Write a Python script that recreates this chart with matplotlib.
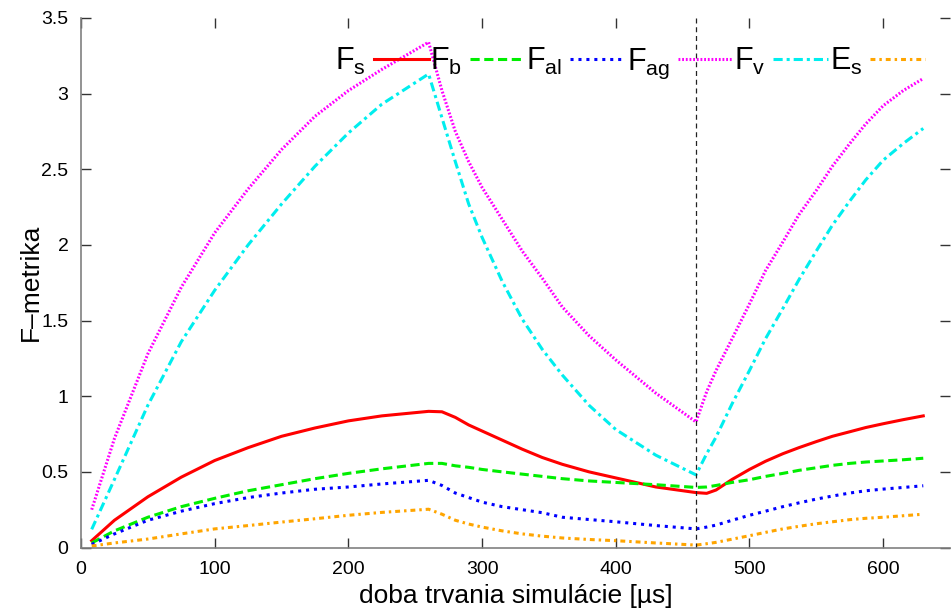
import matplotlib
matplotlib.use("Agg")
import matplotlib.pyplot as plt

plt.rcParams['font.family'] = ['Liberation Sans', 'DejaVu Sans']
plt.rcParams['mathtext.fontset'] = 'custom'
plt.rcParams['mathtext.rm'] = 'Liberation Sans'
plt.rcParams['mathtext.it'] = 'Liberation Sans'
plt.rcParams['mathtext.default'] = 'regular'

x = [8, 25, 50, 75, 100, 125, 150, 175, 200, 225, 260, 270, 280, 290, 300,
     315, 330, 345, 360, 380, 400, 430, 460, 468, 475, 487, 500, 512, 525,
     537, 550, 562, 575, 587, 600, 615, 630]

F_s = [0.045, 0.18, 0.335, 0.465, 0.575, 0.66, 0.735, 0.79, 0.837, 0.87, 0.90,
       0.897, 0.86, 0.81, 0.77, 0.71, 0.65, 0.595, 0.55, 0.50, 0.46, 0.40,
       0.363, 0.358, 0.38, 0.45, 0.516, 0.57, 0.62, 0.66, 0.70, 0.735, 0.765,
       0.793, 0.818, 0.845, 0.87]

F_b = [0.03, 0.11, 0.20, 0.27, 0.325, 0.375, 0.415, 0.455, 0.49, 0.52, 0.556,
       0.556, 0.54, 0.53, 0.516, 0.50, 0.485, 0.47, 0.455, 0.44, 0.43, 0.415,
       0.397, 0.40, 0.41, 0.43, 0.448, 0.47, 0.49, 0.51, 0.527, 0.543, 0.556,
       0.565, 0.572, 0.58, 0.59]

F_al = [0.02, 0.09, 0.18, 0.24, 0.29, 0.33, 0.36, 0.385, 0.40, 0.42, 0.444,
        0.41, 0.36, 0.33, 0.30, 0.27, 0.25, 0.23, 0.20, 0.185, 0.17, 0.145,
        0.123, 0.135, 0.148, 0.18, 0.213, 0.24, 0.27, 0.295, 0.32, 0.34, 0.36,
        0.375, 0.386, 0.397, 0.408]

F_ag = [0.25, 0.72, 1.28, 1.72, 2.08, 2.37, 2.63, 2.85, 3.02, 3.16, 3.34,
        3.02, 2.75, 2.55, 2.38, 2.17, 1.96, 1.78, 1.59, 1.40, 1.24, 1.02,
        0.83, 1.03, 1.17, 1.38, 1.61, 1.83, 2.02, 2.20, 2.36, 2.52, 2.67,
        2.80, 2.92, 3.02, 3.10]

F_v = [0.12, 0.45, 0.94, 1.36, 1.70, 2.00, 2.27, 2.52, 2.74, 2.93, 3.13,
       2.84, 2.55, 2.27, 2.05, 1.76, 1.51, 1.31, 1.14, 0.94, 0.78, 0.61,
       0.48, 0.62, 0.73, 0.95, 1.17, 1.38, 1.58, 1.77, 1.96, 2.13, 2.29,
       2.43, 2.56, 2.67, 2.77]

E_s = [0.01, 0.03, 0.056, 0.09, 0.123, 0.145, 0.168, 0.19, 0.213, 0.232, 0.253,
       0.22, 0.18, 0.155, 0.135, 0.11, 0.09, 0.075, 0.063, 0.053, 0.045, 0.03,
       0.016, 0.025, 0.034, 0.055, 0.078, 0.10, 0.123, 0.14, 0.157, 0.17,
       0.184, 0.193, 0.20, 0.21, 0.22]

marker_x = 460

xticks = [0, 100, 200, 300, 400, 500, 600]
yticks = [0, 0.5, 1, 1.5, 2, 2.5, 3, 3.5]
ytick_labels = ['0', '0.5', '1', '1.5', '2', '2.5', '3', '3.5']

W, H = 952, 610
fig = plt.figure(figsize=(W / 100, H / 100), dpi=100)
ax = fig.add_axes([81 / W, 1 - 547.5 / H, (950 - 81) / W, (547.5 - 18) / H])

lw = 2.2
ax.plot(x, F_s, color='#ff0000', lw=lw, ls='-', label='F$_s$')
ax.plot(x, F_b, color='#00ee00', lw=lw, ls=(0, (3, 1.5)), label='F$_b$')
ax.plot(x, F_al, color='#0000ff', lw=lw, ls=(0, (1, 1.6)), label='F$_{al}$')
ax.plot(x, F_ag, color='#ff00ff', lw=lw, ls=(0, (0.6, 0.6)), label='F$_{ag}$')
ax.plot(x, F_v, color='#00eeee', lw=lw, ls=(0, (3, 1.3, 1, 1.3)), label='F$_v$')
ax.plot(x, E_s, color='#ffa500', lw=lw, ls=(0, (1.6, 1.3, 0.8, 1.3)), label='E$_s$')

ax.axvline(marker_x, color='#222222', lw=0.9, ls=(0, (4, 3)))

ax.set_xlim(0, 650)
ax.set_ylim(0, 3.5)
ax.set_xticks(xticks)
ax.set_yticks(yticks)
ax.set_yticklabels(ytick_labels)
ax.tick_params(direction='in', length=7, width=1, labelsize=14, color='#333333',
               top=True, right=True, pad=9)
ax.tick_params(axis='x', pad=10)
for side in ['left', 'bottom']:
    ax.spines[side].set_color('#808080')
    ax.spines[side].set_linewidth(1.2)
ax.spines['top'].set_visible(False)
ax.spines['right'].set_visible(False)

ax.set_xlabel('doba trvania simulácie [µs]', fontsize=19, labelpad=4)
ax.set_ylabel('F–metrika', fontsize=19, labelpad=-1)

leg = ax.legend(loc='center right', bbox_to_anchor=(925 / W, 1 - 63 / H),
                bbox_transform=fig.transFigure, ncol=6, markerfirst=False,
                frameon=False, fontsize=22, handlelength=1.8, handletextpad=0.25,
                columnspacing=0.05, borderpad=0, borderaxespad=0)

fig.savefig('out.png', dpi=100)
